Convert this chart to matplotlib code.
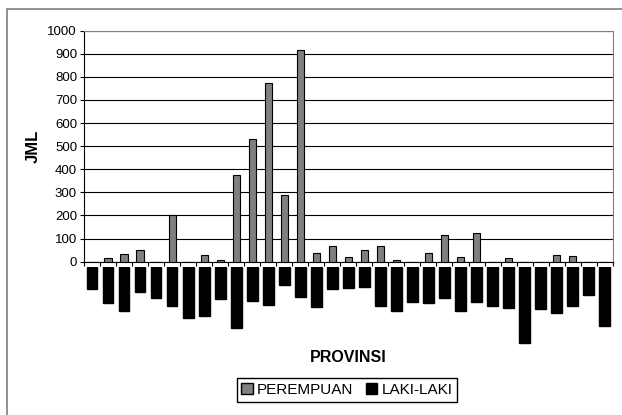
import numpy as np
import matplotlib
matplotlib.use("Agg")
import matplotlib.pyplot as plt
from matplotlib.patches import Rectangle, Patch

plt.rcParams['font.family'] = ['Liberation Sans', 'DejaVu Sans']

# 33 provinces, values
perempuan = [0, 17, 33, 52, 0, 200, 0, 28, 8, 375, 530, 772, 287, 918,
             37, 68, 19, 52, 68, 8, 0, 36, 114, 19, 123, 0, 16, 0, 0,
             30, 26, 0, 0]
laki_laki = [94, 153, 189, 106, 134, 169, 221, 210, 139, 264, 146, 165, 77,
             129, 173, 94, 91, 85, 169, 189, 149, 153, 133, 189, 149, 166,
             177, 328, 182, 199, 169, 120, 255]
y_ticks = [0, 100, 200, 300, 400, 500, 600, 700, 800, 900, 1000]

x = np.arange(len(perempuan))
W, H = 622, 415
fig = plt.figure(figsize=(W / 100, H / 100), dpi=100)

# outer border of the chart area
fig.patches.append(Rectangle((7 / W, -0.1), 1.2, 1 - 9 / H + 0.1,
                             transform=fig.transFigure, fill=False,
                             edgecolor='#808080', linewidth=1.2))

left, right = 84 / W, 612.7 / W
top_px, zero_px, low_top_px, low_bot_px = 30.7, 261.7, 267.3, 347.0
ax = fig.add_axes([left, 1 - zero_px / H, right - left, (zero_px - top_px) / H])
ax.bar(x, perempuan, width=0.45, color='#808080', edgecolor='black',
       linewidth=0.8, zorder=3)
ax.set_xlim(-0.5, len(x) - 0.5)
ax.set_ylim(0, 1000)
ax.set_yticks(y_ticks)
ax.tick_params(axis='y', labelsize=9.5, length=3, pad=2, direction='out')
ax.set_xticks(np.arange(len(x) + 1) - 0.5)
ax.set_xticklabels([])
ax.tick_params(axis='x', length=3, direction='out', color='black')
ax.grid(axis='y', color='black', linewidth=0.8, zorder=0)
ax.spines['top'].set_color('#808080')
ax.spines['right'].set_color('#808080')
ax.spines['left'].set_color('black')
ax.spines['bottom'].set_color('black')
ax.set_ylabel('JML', fontsize=12, fontweight='bold', labelpad=5)

# lower panel for LAKI-LAKI, same scale, drawn downward
px_per_unit = (zero_px - top_px) / 1000
ax2 = fig.add_axes([left, 1 - low_bot_px / H, right - left,
                    (low_bot_px - low_top_px) / H])
ax2.bar(x, [-v for v in laki_laki], width=0.67, color='black', edgecolor='black')
ax2.set_xlim(-0.5, len(x) - 0.5)
ax2.set_ylim(-(low_bot_px - low_top_px) / px_per_unit, 0)
ax2.axis('off')

fig.text(348 / W, 1 - 357 / H, 'PROVINSI', fontsize=11.5, fontweight='bold',
         ha='center', va='center')

handles = [Patch(facecolor='#808080', edgecolor='black', label='PEREMPUAN'),
           Patch(facecolor='black', edgecolor='black', label='LAKI-LAKI')]
fig.legend(handles=handles, loc='center', bbox_to_anchor=(347 / W, 1 - 390 / H),
           ncol=2, fontsize=11, frameon=True, fancybox=False, edgecolor='black',
           framealpha=1, handlelength=0.75, handleheight=0.75, handletextpad=0.3,
           columnspacing=0.8, borderpad=0.3)

fig.savefig('out.png', dpi=100)
